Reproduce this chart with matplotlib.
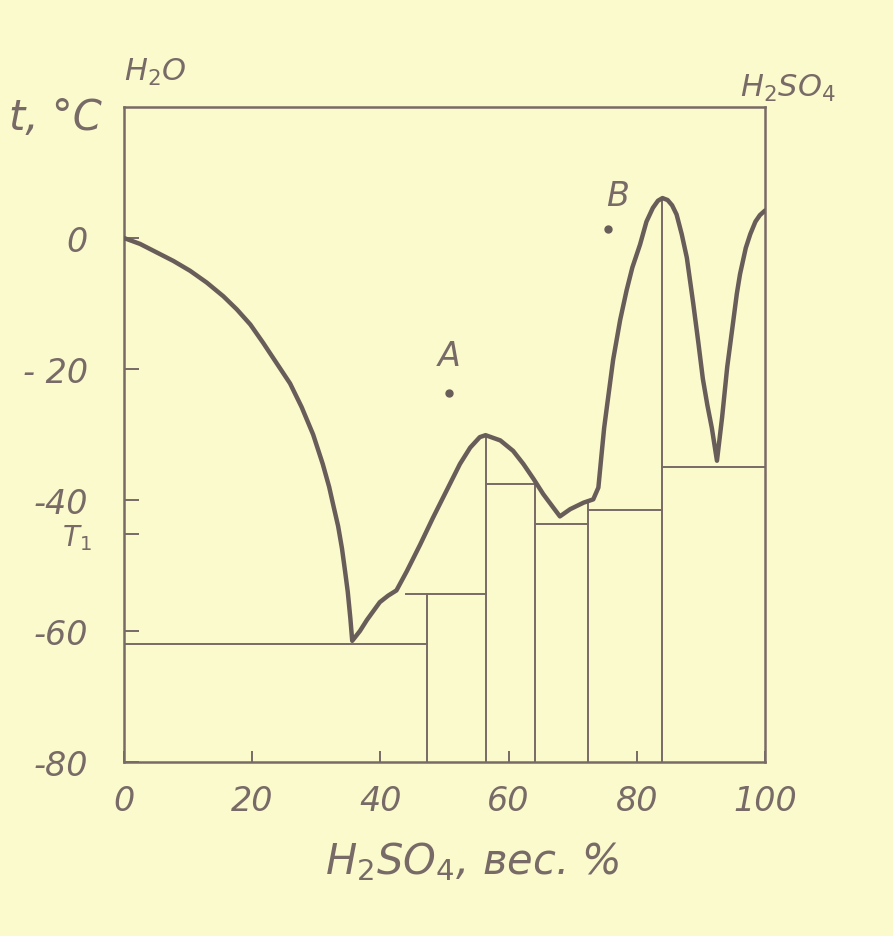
import numpy as np
import matplotlib.pyplot as plt

## liquidus curve, H2SO4 wt% vs t
curve_x = [0, 2.5, 5.1, 7.7, 10.3, 12.9, 15.5, 17.6, 19.7, 21.7, 23.8, 25.9, 27.7,
           29.5, 31.0, 32.0, 32.6, 33.4, 34.0, 34.5, 34.9, 35.3, 35.6,
           36.8, 37.9, 39.9, 41.2, 42.5, 44.1, 46.2, 48.2, 50.3, 52.4, 54.0, 55.5, 56.4,
           58.7, 60.7, 62.3, 63.9, 65.4, 67.0, 68.0,
           69.6, 71.7, 73.2, 74.0, 74.5, 74.9, 75.3, 76.3, 77.4, 78.4, 79.3, 80.5, 81.5, 82.5, 83.3, 84.0,
           84.8, 85.5, 86.2, 87.0, 87.8, 88.8, 89.6, 90.3, 91.0, 91.7, 92.5,
           93.3, 94.1, 95.0, 95.6, 96.1, 97.0, 97.7, 98.5, 99.2, 100]
curve_y = [0, -0.9, -2.2, -3.5, -5.0, -6.8, -8.9, -10.9, -13.2, -16.0, -19.1, -22.2, -25.8,
           -30.0, -34.5, -38.0, -40.6, -44.0, -47.4, -51.0, -54.0, -58.0, -61.5,
           -60.0, -58.3, -55.6, -54.6, -53.8, -50.9, -46.8, -42.7, -38.6, -34.5, -32.0, -30.4, -30.1,
           -30.9, -32.5, -34.5, -36.8, -39.1, -41.2, -42.5,
           -41.4, -40.4, -39.9, -38.1, -33.0, -29.0, -26.0, -18.6, -12.5, -8.0, -4.5, -1.0, 2.5, 4.6, 5.7, 6.1,
           5.8, 5.0, 3.6, 0.6, -3.0, -10.0, -16.0, -21.5, -25.5, -29.0, -34.0,
           -27.4, -19.7, -13.0, -8.5, -5.5, -1.5, 0.6, 2.5, 3.5, 4.2]

## horizontal eutectic lines: t, x from, x to
hl_t = [-62.0, -54.3, -37.5, -43.7, -41.5, -35.0]
hl_x0 = [0, 44.0, 56.4, 64.1, 72.4, 84.0]
hl_x1 = [47.2, 56.4, 64.1, 72.4, 84.0, 100]

## vertical lines of the compounds: x, top t
vl_x = [47.2, 56.4, 64.1, 72.4, 84.0]
vl_top = [-54.3, -30.1, -37.5, -40.2, 6.1]

## points A and B
pt_names = ['A', 'B']
pt_x = [50.7, 75.5]
pt_y = [-23.6, 1.4]

xticks = [0, 20, 40, 60, 80, 100]
yticks = [0, -20, -40, -60, -80]
ylabels = ['0', '- 20', '-40', '-60', '-80']
t1 = -45.2

paper = '#fafacd'
ink = '#786a66'
dark = '#685d59'

plt.rcParams['mathtext.default'] = 'it'

fig = plt.figure(figsize=(8.93, 9.37), dpi=100, facecolor=paper)
ax = fig.add_axes([0.1389, 0.1857, 0.7178, 0.6990])
ax.set_facecolor(paper)

ax.plot(curve_x, curve_y, color=dark, lw=3.2, solid_joinstyle='round', solid_capstyle='round', zorder=3)
for t, a, b in zip(hl_t, hl_x0, hl_x1):
    ax.plot([a, b], [t, t], color=ink, lw=1.4, zorder=2)
for x, top in zip(vl_x, vl_top):
    ax.plot([x, x], [-80, top], color=ink, lw=1.4, zorder=2)

ax.plot(pt_x, pt_y, 'o', color=dark, ms=5, zorder=3)
ax.text(pt_x[0], pt_y[0] + 3.2, pt_names[0], color=ink, fontsize=24, style='italic',
        ha='center', va='bottom')
ax.text(pt_x[1] + 1.5, pt_y[1] + 2.5, pt_names[1], color=ink, fontsize=24, style='italic',
        ha='center', va='bottom')

ax.set_xlim(0, 100)
ax.set_ylim(-80, 20)
ax.set_xticks(xticks)
ax.set_xticklabels([str(v) for v in xticks])
ax.set_yticks(yticks + [t1])
ax.set_yticklabels(ylabels + [''])
ax.tick_params(axis='x', direction='in', length=8, width=1.4, color=ink, pad=16,
               labelsize=24, labelcolor=ink)
ax.tick_params(axis='y', direction='in', length=11, width=1.4, color=ink, pad=26,
               labelsize=24, labelcolor=ink)
for lab in ax.get_xticklabels() + ax.get_yticklabels():
    lab.set_style('italic')
for s in ax.spines.values():
    s.set_color(ink)
    s.set_linewidth(1.8)

ax.text(-5, t1 - 0.5, 'T$_1$', color=ink, fontsize=20, style='italic',
        ha='right', va='center', transform=ax.transData)

fig.text(55 / 893, 1 - 118 / 937, 't, °C', color=ink, fontsize=30, style='italic',
         ha='center', va='center')
fig.text(155 / 893, 1 - 72 / 937, 'H$_2$O', color=ink, fontsize=22, style='italic',
         ha='center', va='center')
fig.text(788 / 893, 1 - 88 / 937, 'H$_2$SO$_4$', color=ink, fontsize=22, style='italic',
         ha='center', va='center')
fig.text(472 / 893, 1 - 862 / 937, 'H$_2$SO$_4$, вес. %', color=ink, fontsize=30, style='italic',
         ha='center', va='center')

fig.savefig('out.png', dpi=100, facecolor=paper)
